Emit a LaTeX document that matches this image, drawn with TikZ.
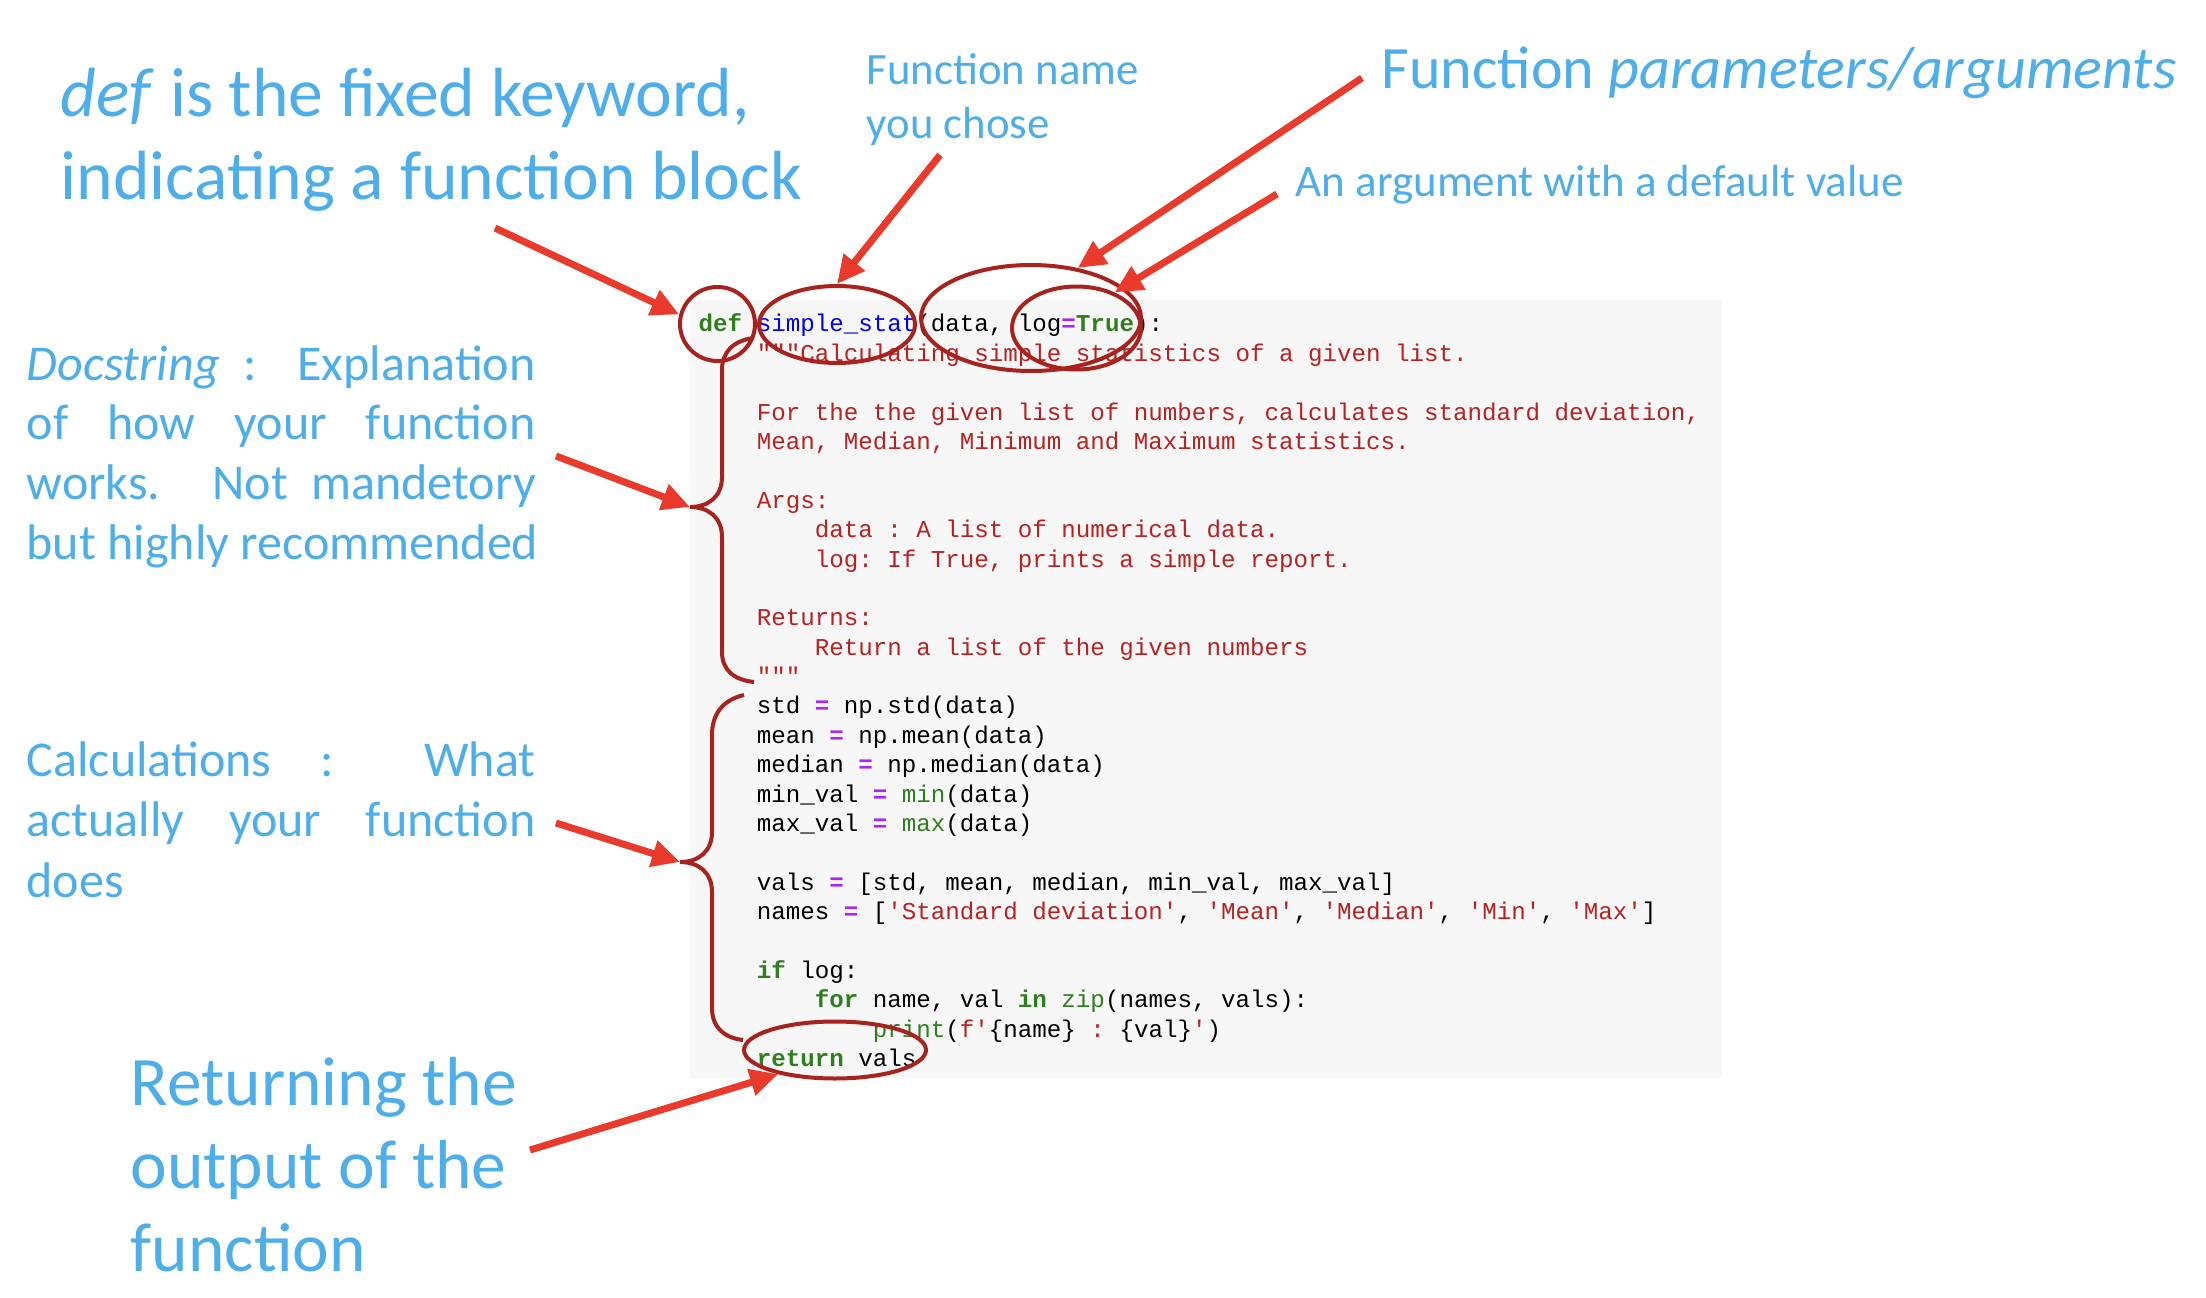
\documentclass[tikz,border=0pt]{standalone}
\usepackage{fontspec}
\setmainfont{Carlito}
\setmonofont{Liberation Mono}
\usepackage{xcolor}
\usetikzlibrary{arrows.meta,shapes.geometric}

\definecolor{lblblue}{HTML}{4EAEEA}
\definecolor{arrowred}{HTML}{E93A2B}
\definecolor{ringred}{HTML}{A9231E}
\definecolor{codebg}{HTML}{F7F7F7}
\definecolor{kwgreen}{HTML}{2F7F1F}
\definecolor{fnblue}{HTML}{0000FF}
\definecolor{eqpurple}{HTML}{AA22FF}
\definecolor{strred}{HTML}{BA2121}

\newcommand{\pykw}[1]{\textcolor{kwgreen}{\bfseries #1}}
\newcommand{\pybi}[1]{\textcolor{kwgreen}{#1}}
\newcommand{\pyfn}[1]{\textcolor{fnblue}{#1}}
\newcommand{\pyeq}{\textcolor{eqpurple}{\bfseries =}}
\newcommand{\pystr}[1]{\textcolor{strred}{#1}}
\newcommand{\ind}{\ \ \ \ }
\newcommand{\lblrows}[1]{\begin{tabular}[t]{@{}l@{}}#1\end{tabular}}
\newcommand{\jline}[1]{\makebox[50.9mm][s]{#1}}

\tikzset{
  lbl/.style={text=lblblue, inner sep=0pt, anchor=base west},
  ring/.style={draw=ringred, line width=0.4mm, ellipse, inner sep=0pt},
  pointer/.style={draw=arrowred, line width=0.7mm, -{Triangle[length=2.8mm,width=2.6mm]}},
  brace/.style={draw=ringred, line width=0.4mm}
}

\begin{document}
\begin{tikzpicture}[x=0.1mm,y=-0.1mm]
\useasboundingbox (0,0) rectangle (2206,1298);

% code cell
\fill[codebg] (690,300) rectangle (1722,1078);
\node[inner sep=0pt, anchor=base west, font=\ttfamily\fontsize{6.88pt}{8.36pt}\selectfont] (code) at (698,332) {\begin{tabular}[t]{@{}l@{}}
\pykw{def} \pyfn{simple\_stat}(data, log\pyeq\pykw{True}):\\
\ind\pystr{"""Calculating simple statistics of a given list.}\\
\\
\ind\pystr{For the the given list of numbers, calculates standard deviation,}\\
\ind\pystr{Mean, Median, Minimum and Maximum statistics.}\\
\\
\ind\pystr{Args:}\\
\ind\ind\pystr{data : A list of numerical data.}\\
\ind\ind\pystr{log: If True, prints a simple report.}\\
\\
\ind\pystr{Returns:}\\
\ind\ind\pystr{Return a list of the given numbers}\\
\ind\pystr{"""}\\
\ind std \pyeq{} np.std(data)\\
\ind mean \pyeq{} np.mean(data)\\
\ind median \pyeq{} np.median(data)\\
\ind min\_val \pyeq{} \pybi{min}(data)\\
\ind max\_val \pyeq{} \pybi{max}(data)\\
\\
\ind vals \pyeq{} [std, mean, median, min\_val, max\_val]\\
\ind names \pyeq{} [\pystr{'Standard deviation'}, \pystr{'Mean'}, \pystr{'Median'}, \pystr{'Min'}, \pystr{'Max'}]\\
\\
\ind\pykw{if} log:\\
\ind\ind\pykw{for} name, val \pykw{in} \pybi{zip}(names, vals):\\
\ind\ind\ind\pybi{print}(\pystr{f'}\{name\}\pystr{\ :\ }\{val\}\pystr{'})\\
\ind\pykw{return} vals
\end{tabular}};

% labels
\node[lbl, font=\fontsize{19.8pt}{23.6pt}\selectfont] (deflbl) at (60,117) {\lblrows{\textit{def} is the fixed keyword,\\indicating a function block}};
\node[lbl, font=\fontsize{12.75pt}{15.1pt}\selectfont] (namelbl) at (866,85) {\lblrows{Function name\\you chose}};
\node[lbl, font=\fontsize{17.1pt}{20pt}\selectfont] (paramlbl) at (1381,89) {Function \textit{parameters/arguments}};
\node[lbl, font=\fontsize{12.8pt}{15pt}\selectfont] (loglbl) at (1295,197) {An argument with a default value};
\node[lbl, font=\fontsize{14.25pt}{17.07pt}\selectfont] (doclbl) at (26,380) {\lblrows{\jline{\textit{Docstring} : Explanation}\\\jline{of how your function}\\\jline{works. Not mandetory}\\but highly recommended}};
\node[lbl, font=\fontsize{14.25pt}{17.35pt}\selectfont] (calclbl) at (26,776) {\lblrows{\jline{Calculations : What}\\\jline{actually your function}\\does}};
\node[lbl, font=\fontsize{19.75pt}{23.75pt}\selectfont] (retlbl) at (130,1105) {\lblrows{Returning the\\output of the\\function}};

% rings
\node[ring, minimum width=7.5mm, minimum height=7.4mm] (defring) at (717.5,324) {};
\node[ring, minimum width=15.6mm, minimum height=7.7mm] (namering) at (837,324.5) {};
\node[ring, minimum width=22mm, minimum height=10.6mm] (paramring) at (1031,318) {};
\node[ring, minimum width=12.9mm, minimum height=8.3mm] (logring) at (1076.5,328) {};
\node[ring, minimum width=18.2mm, minimum height=5.7mm] (retring) at (835,1050) {};

% braces
\coordinate (doctip) at (690,507);
\coordinate (calctip) at (680,862);
\draw[brace] (753,338) .. controls (733,341) and (722,352) .. (722,370) -- (722,477)
  .. controls (722,497) and (708,507) .. (doctip)
  .. controls (708,507) and (722,517) .. (722,537) -- (722,652)
  .. controls (722,670) and (734,680) .. (754,682);
\draw[brace] (744,695) .. controls (722,700) and (712,715) .. (712,735) -- (712,832)
  .. controls (712,852) and (698,862) .. (calctip)
  .. controls (698,862) and (712,872) .. (712,892) -- (712,1008)
  .. controls (712,1028) and (725,1038) .. (743,1040);

% arrows
\coordinate (defarr) at (495,228);
\coordinate (namearr) at (940,155);
\coordinate (paramarr) at (1362,78);
\coordinate (logarr) at (1277,194);
\coordinate (docarr) at (556,456);
\coordinate (calcarr) at (556,823);
\coordinate (retarr) at (530,1150);
\draw[pointer] (defarr) -- (defring.166);
\draw[pointer] (namearr) -- (namering.north);
\draw[pointer] (paramarr) -- (paramring.47);
\draw[pointer] (logarr) -- (logring.43);
\draw[pointer] (docarr) -- (doctip);
\draw[pointer] (calcarr) -- (calctip);
\draw[pointer] (retarr) -- (retring.203);
\end{tikzpicture}
\end{document}
